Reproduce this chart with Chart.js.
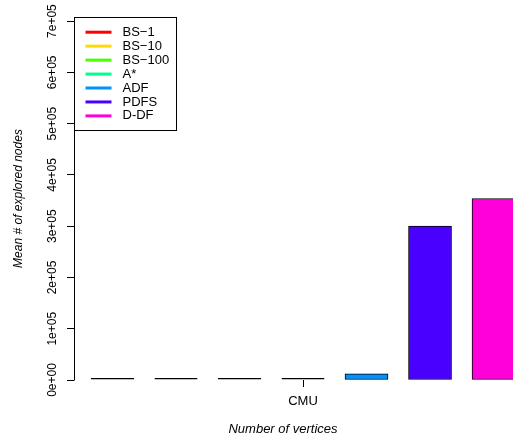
<!DOCTYPE html>
<html>
<head>
<meta charset="utf-8">
<script src="https://cdn.jsdelivr.net/npm/chart.js@4/dist/chart.umd.min.js"></script>
<style>
  html, body { margin: 0; padding: 0; background: #ffffff; }
  #wrap { width: 513px; height: 439px; }
</style>
</head>
<body>
<div id="wrap"><canvas id="c" width="513" height="439"></canvas></div>
<script>
// ---- data ----
const categories = ['CMU'];
const seriesNames = ['BS\u22121', 'BS\u221210', 'BS\u2212100', 'A*', 'ADF', 'PDFS', 'D-DF'];
const seriesValues = [300, 300, 300, 300, 12000, 300000, 354000];
const seriesColors = ['#FF0000', '#FFDB00', '#49FF00', '#00FF92', '#0092FF', '#4900FF', '#FF00DB'];
const yTickValues = [0, 100000, 200000, 300000, 400000, 500000, 600000, 700000];
const yMax = 708000;

const FONT = "'Liberation Sans', Arial, Helvetica, sans-serif";

function fmtExp(v) {
  if (v === 0) return '0e+00';
  const e = Math.floor(Math.log10(v));
  const m = Math.round(v / Math.pow(10, e));
  return m + 'e+' + String(e).padStart(2, '0');
}

// bars sit at positions 1..n along a linear x scale; the group label sits at its middle
const groupCenter = (seriesNames.length + 1) / 2;

// near-zero bars render as a plain black outline (as R draws zero-height rects)
function inflateFor(ctx) {
  const ys = ctx.chart.scales.y;
  if (!ys || !ctx.parsed) return 'auto';
  const h = Math.abs(ys.getPixelForValue(0) - ys.getPixelForValue(ctx.parsed.y));
  return h < 3 ? 0 : 'auto';
}

const datasets = seriesNames.map((name, i) => ({
  label: name,
  data: [{ x: i + 1, y: seriesValues[i] }],
  backgroundColor: seriesColors[i],
  borderColor: '#000000',
  borderWidth: 1,
  borderSkipped: false,
  inflateAmount: inflateFor,
  minBarLength: 2,
  barThickness: 43,
  clip: false
}));

const axisLinePlugin = {
  id: 'rAxisLine',
  afterDraw(chart) {
    const y = chart.scales.y;
    const ctx = chart.ctx;
    const x = Math.round(chart.chartArea.left) + 0.5;
    const y0 = y.getPixelForValue(yTickValues[0]);
    const y1 = y.getPixelForValue(yTickValues[yTickValues.length - 1]);
    ctx.save();
    ctx.strokeStyle = '#000000';
    ctx.lineWidth = 1;
    ctx.beginPath();
    ctx.moveTo(x, Math.round(y0) + 0.5);
    ctx.lineTo(x, Math.round(y1) + 0.5);
    ctx.stroke();
    ctx.restore();
  }
};

const legendPlugin = {
  id: 'rLegend',
  afterDraw(chart) {
    const ctx = chart.ctx;
    const ca = chart.chartArea;
    const left = Math.round(ca.left) + 0.5;
    const top = Math.round(ca.top) + 0.5;
    const w = 102, h = 113;
    ctx.save();
    ctx.fillStyle = '#ffffff';
    ctx.fillRect(left, top, w, h);
    ctx.strokeStyle = '#000000';
    ctx.lineWidth = 1;
    ctx.strokeRect(left, top, w, h);
    ctx.font = '13px ' + FONT;
    ctx.textBaseline = 'middle';
    ctx.textAlign = 'left';
    seriesNames.forEach((name, i) => {
      const ry = top + 14.7 + i * 13.95;
      ctx.strokeStyle = seriesColors[i];
      ctx.lineWidth = 3;
      ctx.beginPath();
      ctx.moveTo(left + 11, ry);
      ctx.lineTo(left + 37, ry);
      ctx.stroke();
      ctx.fillStyle = '#000000';
      ctx.fillText(name, left + 48, ry);
    });
    ctx.restore();
  }
};

new Chart(document.getElementById('c'), {
  type: 'bar',
  data: { datasets },
  options: {
    responsive: false,
    animation: false,
    devicePixelRatio: 1,
    grouped: false,
    layout: { padding: { left: 0, right: 21, top: 17, bottom: 0 } },
    plugins: {
      legend: { display: false },
      tooltip: { enabled: false }
    },
    scales: {
      x: {
        type: 'linear',
        offset: false,
        min: 0.3937,
        max: 6.976,
        afterFit(scale) { scale.height = 59; },
        afterBuildTicks(scale) { scale.ticks = [{ value: groupCenter }]; },
        border: { display: false },
        grid: { drawOnChartArea: false, drawTicks: true, tickLength: 7, color: '#000000', lineWidth: 1, offset: false },
        ticks: {
          callback: () => categories[0],
          color: '#000000',
          font: { family: FONT, size: 13 },
          padding: 7,
          maxRotation: 0,
          autoSkip: false
        },
        title: {
          display: true,
          text: 'Number of vertices',
          color: '#000000',
          font: { family: FONT, size: 13, style: 'italic' },
          padding: { top: 0, bottom: 2 }
        }
      },
      y: {
        type: 'linear',
        min: 0,
        max: yMax,
        afterFit(scale) { scale.width = 74; },
        afterBuildTicks(scale) { scale.ticks = yTickValues.map(v => ({ value: v })); },
        border: { display: false },
        grid: { drawOnChartArea: false, drawTicks: true, tickLength: 7, color: '#000000', lineWidth: 1 },
        ticks: {
          callback: (v) => fmtExp(v),
          color: '#000000',
          font: { family: FONT, size: 12 },
          minRotation: 90,
          maxRotation: 90,
          crossAlign: 'center',
          padding: -3,
          autoSkip: false
        },
        title: {
          display: true,
          text: 'Mean # of explored nodes',
          color: '#000000',
          font: { family: FONT, size: 12, style: 'italic' },
          padding: { top: 11, bottom: 0 }
        }
      }
    }
  },
  plugins: [axisLinePlugin, legendPlugin]
});
</script>
</body>
</html>
